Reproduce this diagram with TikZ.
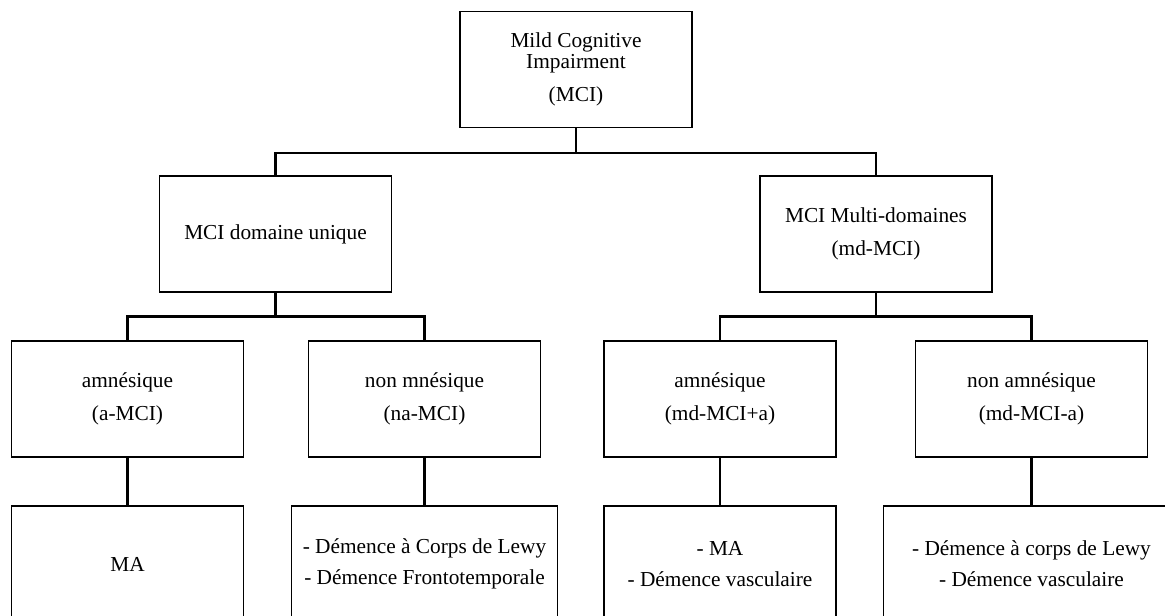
\documentclass[tikz,border=0pt]{standalone}
\usepackage{fontspec}
\setmainfont{Liberation Serif}
\begin{document}
\begin{tikzpicture}[x=0.75pt, y=-0.75pt,
  box/.style={draw, line width=0.8pt, rectangle, align=center,
    minimum width=174pt, minimum height=87pt, inner sep=0pt,
    font=\fontsize{16}{16}\selectfont},
  link/.style={draw, line width=1.6pt}]
\clip (0,0) rectangle (1165,615);
% level 1
\node[box] (mci) at (576,69.5) {Mild Cognitive\\Impairment\\[8.75pt](MCI)};
% level 2
\node[box] (single) at (275.5,234) {MCI domaine unique};
\node[box] (multi) at (876,234) {MCI Multi-domaines\\[8.75pt](md-MCI)};
% level 3
\node[box] (am) at (127.5,399) {amnésique\\[8.75pt](a-MCI)};
\node[box] (nonmn) at (424.5,399) {non mnésique\\[8.75pt](na-MCI)};
\node[box] (mdam) at (720,399) {amnésique\\[8.75pt](md-MCI+a)};
\node[box] (mdnon) at (1031.5,399) {non amnésique\\[8.75pt](md-MCI-a)};
% level 4
\node[box] (ma) at (127.5,564) {MA};
\node[box, minimum width=199.5pt] (lewyft) at (424.5,564) {- Démence à Corps de Lewy\\[7pt]- Démence Frontotemporale};
\node[box] (mavasc) at (720,564) {- MA\\[7pt]- Démence vasculaire};
\node[box, minimum width=222pt] (lewyvasc) at (1031.5,564) {- Démence à corps de Lewy\\[7pt]- Démence vasculaire};
% connectors
\draw[link] (mci.south) -- ++(0,25) -| (single.north);
\draw[link] (mci.south) -- ++(0,25) -| (multi.north);
\draw[link] (single.south) -- ++(0,24) -| (am.north);
\draw[link] (single.south) -- ++(0,24) -| (nonmn.north);
\draw[link] (multi.south) -- ++(0,24) -| (mdam.north);
\draw[link] (multi.south) -- ++(0,24) -| (mdnon.north);
\draw[link] (am) -- (ma);
\draw[link] (nonmn) -- (lewyft);
\draw[link] (mdam) -- (mavasc);
\draw[link] (mdnon) -- (lewyvasc);
\end{tikzpicture}
\end{document}
